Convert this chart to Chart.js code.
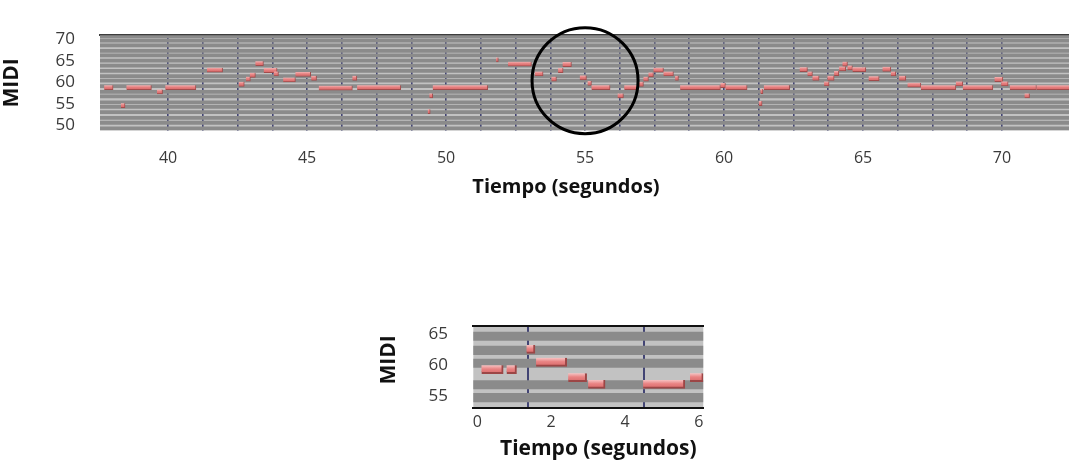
<!DOCTYPE html>
<html><head><meta charset="utf-8">
<script src="https://cdn.jsdelivr.net/npm/chart.js@4.4.1/dist/chart.umd.min.js"></script>
<style>
html,body{margin:0;padding:0;background:#fff;width:1069px;height:461px;overflow:hidden;}
#w1{position:absolute;left:0;top:0;width:1069px;height:200px;}
#w2{position:absolute;left:370px;top:290px;width:350px;height:171px;}
</style></head><body>
<div id="w1"><canvas id="c1"></canvas></div>
<div id="w2"><canvas id="c2"></canvas></div>
<script>
// ---------- data: full piano roll (top) ----------
const topNoteStart = [37.70,38.30,38.50,39.60,39.90,41.40,42.54,42.80,42.94,43.14,43.44,43.80,44.14,44.58,45.15,45.42,46.63,46.80,49.34,49.40,49.52,51.80,52.23,53.19,53.79,54.03,54.19,54.81,55.09,55.23,56.17,56.41,56.92,57.10,57.28,57.46,57.82,58.24,58.42,59.87,60.05,61.25,61.31,61.43,62.72,63.00,63.18,63.60,63.72,63.96,64.14,64.26,64.44,64.62,65.20,65.70,66.00,66.30,66.60,67.08,68.34,68.59,69.73,69.97,70.28,70.81,71.24];
const topNoteEnd   = [38.02,38.45,39.40,39.80,41.00,41.96,42.74,42.96,43.14,43.43,43.92,43.97,44.58,45.13,45.34,46.63,46.79,48.37,49.43,49.52,51.50,51.88,53.07,53.49,53.97,54.21,54.51,55.05,55.23,55.90,56.38,56.92,57.10,57.28,57.46,57.82,58.18,58.36,59.87,60.05,60.83,61.37,61.40,62.36,63.00,63.18,63.42,63.78,63.96,64.13,64.38,64.44,64.62,65.10,65.58,66.00,66.18,66.54,67.08,68.34,68.59,69.67,70.03,70.22,71.24,70.99,72.60];
const topNotePitch = [58.8,54.6,58.8,57.8,58.8,62.9,59.6,60.8,61.7,64.4,62.8,62.0,60.6,61.9,61.0,58.7,61.0,58.8,53.2,56.9,58.8,65.3,64.3,62.0,60.8,62.8,64.2,61.1,59.8,58.8,56.9,58.8,59.6,60.8,61.8,62.9,62.0,61.0,58.8,59.3,58.8,55.1,57.9,58.8,63.0,62.0,61.0,59.7,61.0,62.1,63.2,64.3,63.4,63.0,60.9,63.1,62.0,61.0,59.4,58.8,59.7,58.8,60.7,59.7,58.8,56.9,58.8];
const topDarkRows  = [49.23,50.57,51.72,53.06,54.26,55.31,56.72,57.77,59.13,60.41,61.46,62.66,63.89,65.09,66.29,67.33,68.66,69.73,70.76];
const topXTicks    = [40,45,50,55,60,65,70];
const topYTicks    = [50,55,60,65,70];
const circleMark   = [{x:55.0, y:60.4}];

// ---------- data: zoomed excerpt (bottom) ----------
const zoomNoteStart = [0.11,0.79,1.33,1.59,2.46,3.00,4.49,5.76];
const zoomNoteEnd   = [0.70,1.06,1.56,2.42,2.96,3.46,5.62,6.12];
const zoomNotePitch = [59.3,59.3,62.6,60.5,58.0,56.9,56.9,58.0];
const zoomDarkRows  = [54.7,56.8,60.3,62.4,64.7];
const zoomBarLines  = [1.38,4.51];
const zoomXTicks    = [0,2,4,6];
const zoomYTicks    = [55,60,65];

// ---------- axis ranges ----------
const TOP_X = {min:37.55, max:72.41}, TOP_Y = {min:48.76, max:71.01};
const ZM_X  = {min:-0.11, max:6.12},  ZM_Y  = {min:52.96, max:66.46};

Chart.defaults.font.family = "'Open Sans', sans-serif";
Chart.defaults.color = '#333';
Chart.defaults.animation = false;
Chart.defaults.events = [];

const LIGHT = '#c2c2c2', DARK = '#8b8b8b', GRID = '#424474';

const areaBg = {
  id: 'areaBg',
  beforeDraw(chart) {
    const {ctx, chartArea: a} = chart;
    ctx.save(); ctx.fillStyle = LIGHT; ctx.fillRect(a.left, a.top, a.width, a.height); ctx.restore();
  }
};

function fitter(opts) {
  return function(scale) {
    if (opts.width !== undefined) scale.width = opts.width;
    if (opts.height !== undefined) scale.height = opts.height;
    if ((opts.dx || opts.dy) && !scale._shiftPatched) {
      scale._shiftPatched = true;
      const orig = scale.drawTitle;
      scale.drawTitle = function() {
        const c = this.ctx; c.save(); c.translate(opts.dx || 0, opts.dy || 0); orig.call(this); c.restore();
      };
    }
  };
}
function fixedTicks(list) { return s => { s.ticks = list.map(v => ({value: v})); }; }

function noteFill(thick, light, mid, dark) {
  return function(ctx) {
    const c = ctx.chart;
    if (!c.chartArea || !ctx.parsed) return mid;
    const yp = c.scales.y.getPixelForValue(ctx.parsed.y);
    const g = c.ctx.createLinearGradient(0, yp - thick / 2, 0, yp + thick / 2);
    g.addColorStop(0, light); g.addColorStop(0.45, mid); g.addColorStop(1, dark);
    return g;
  };
}

// ---------- top chart ----------
new Chart(document.getElementById('c1'), {
  type: 'bar',
  data: {
    datasets: [
      {
        type: 'bar', indexAxis: 'y', grouped: false, order: 3,
        data: topDarkRows.map(v => ({x: [TOP_X.min, TOP_X.max], y: v})),
        backgroundColor: DARK, barThickness: 3.1, borderWidth: 0
      },
      {
        type: 'bar', indexAxis: 'y', grouped: false, order: 1,
        data: topNotePitch.map((p, i) => ({x: [topNoteStart[i], topNoteEnd[i]], y: p})),
        backgroundColor: noteFill(4.5, '#f3b3b3', '#e67e7e', '#d46767'),
        borderColor: '#a14c4c', borderWidth: {top: 0, left: 0, right: 1, bottom: 1},
        borderSkipped: false, barThickness: 4.5
      },
      {
        type: 'scatter', order: 0, clip: false,
        data: circleMark,
        pointRadius: 53, borderWidth: 3, borderColor: '#000',
        backgroundColor: 'rgba(0,0,0,0)'
      }
    ]
  },
  options: {
    responsive: true, maintainAspectRatio: false,
    layout: {autoPadding: false, padding: {top: 14, right: 0, left: 0, bottom: 0}},
    plugins: {legend: {display: false}, tooltip: {enabled: false}},
    scales: {
      x: {
        type: 'linear', position: 'bottom', min: TOP_X.min, max: TOP_X.max, offset: false,
        afterBuildTicks: fixedTicks(topXTicks),
        afterFit: fitter({height: 69.5, dx: -18.5}),
        grid: {display: false, drawTicks: false, offset: false}, border: {display: false},
        ticks: {padding: 18.5, font: {size: 16}, color: '#3a3a3a'},
        title: {display: true, text: 'Tiempo (segundos)', color: '#111',
                font: {size: 20, weight: 'bold', lineHeight: 1}, padding: {top: 0, bottom: 3}}
      },
      x2: {
        type: 'linear', position: 'top', min: TOP_X.min, max: TOP_X.max, z: 1, offset: false,
        ticks: {display: false, stepSize: 1.25},
        afterBuildTicks: s => { s.ticks = s.ticks.filter(t => Math.abs(t.value / 1.25 - Math.round(t.value / 1.25)) < 1e-6); },
        afterFit: fitter({height: 0}),
        grid: {color: GRID, lineWidth: 1.6, drawTicks: false, offset: false},
        border: {display: true, color: '#3d3d3d', width: 2}
      },
      y: {
        type: 'linear', position: 'left', min: TOP_Y.min, max: TOP_Y.max, offset: false,
        afterBuildTicks: fixedTicks(topYTicks),
        afterFit: fitter({width: 100}),
        grid: {display: false, drawTicks: false, offset: false}, border: {display: false},
        ticks: {padding: 25, font: {size: 17}, color: '#3a3a3a'},
        title: {display: true, text: 'MIDI', color: '#111',
                font: {size: 21, weight: 'bold', lineHeight: 1}, padding: {top: 2, bottom: 0}}
      }
    }
  },
  plugins: [areaBg]
});

// ---------- bottom chart ----------
new Chart(document.getElementById('c2'), {
  type: 'bar',
  data: {
    datasets: [
      {
        type: 'bar', indexAxis: 'y', grouped: false, order: 3,
        data: zoomDarkRows.map(v => ({x: [ZM_X.min, ZM_X.max], y: v})),
        backgroundColor: DARK, barThickness: 8.5, borderWidth: 0
      },
      {
        type: 'bar', indexAxis: 'y', grouped: false, order: 1,
        data: zoomNotePitch.map((p, i) => ({x: [zoomNoteStart[i], zoomNoteEnd[i]], y: p})),
        backgroundColor: noteFill(8.5, '#f7c4c4', '#e98383', '#d86a6a'),
        borderColor: '#9c4646', borderWidth: {top: 0, left: 0, right: 2, bottom: 2},
        borderSkipped: false, barThickness: 8.5
      }
    ]
  },
  options: {
    responsive: true, maintainAspectRatio: false,
    layout: {autoPadding: false, padding: {top: 10, right: 16.7, left: 0, bottom: 0}},
    plugins: {legend: {display: false}, tooltip: {enabled: false}},
    scales: {
      x: {
        type: 'linear', position: 'bottom', min: ZM_X.min, max: ZM_X.max, offset: false,
        afterBuildTicks: fixedTicks(zoomXTicks),
        afterFit: fitter({height: 52.7, dx: 10}),
        grid: {display: false, drawTicks: false, offset: false}, border: {display: true, color: '#111', width: 2},
        ticks: {padding: 4.8, font: {size: 16}, color: '#3a3a3a'},
        title: {display: true, text: 'Tiempo (segundos)', color: '#111',
                font: {size: 21, weight: 'bold', lineHeight: 1}, padding: {top: 0, bottom: 1.2}}
      },
      x2: {
        type: 'linear', position: 'top', min: ZM_X.min, max: ZM_X.max, z: 1, offset: false,
        ticks: {display: false},
        afterBuildTicks: fixedTicks(zoomBarLines),
        afterFit: fitter({height: 0}),
        grid: {color: GRID, lineWidth: 2, drawTicks: false, offset: false},
        border: {display: true, color: '#111', width: 2}
      },
      y: {
        type: 'linear', position: 'left', min: ZM_Y.min, max: ZM_Y.max, offset: false,
        afterBuildTicks: fixedTicks(zoomYTicks),
        afterFit: fitter({width: 103.3, dy: -7}),
        grid: {display: false, drawTicks: false, offset: false}, border: {display: false},
        ticks: {padding: 25.3, font: {size: 17}, color: '#3a3a3a'},
        title: {display: true, text: 'MIDI', color: '#111',
                font: {size: 21, weight: 'bold', lineHeight: 1}, padding: {top: 8.5, bottom: 0}}
      }
    }
  },
  plugins: [areaBg]
});
</script>
</body></html>
